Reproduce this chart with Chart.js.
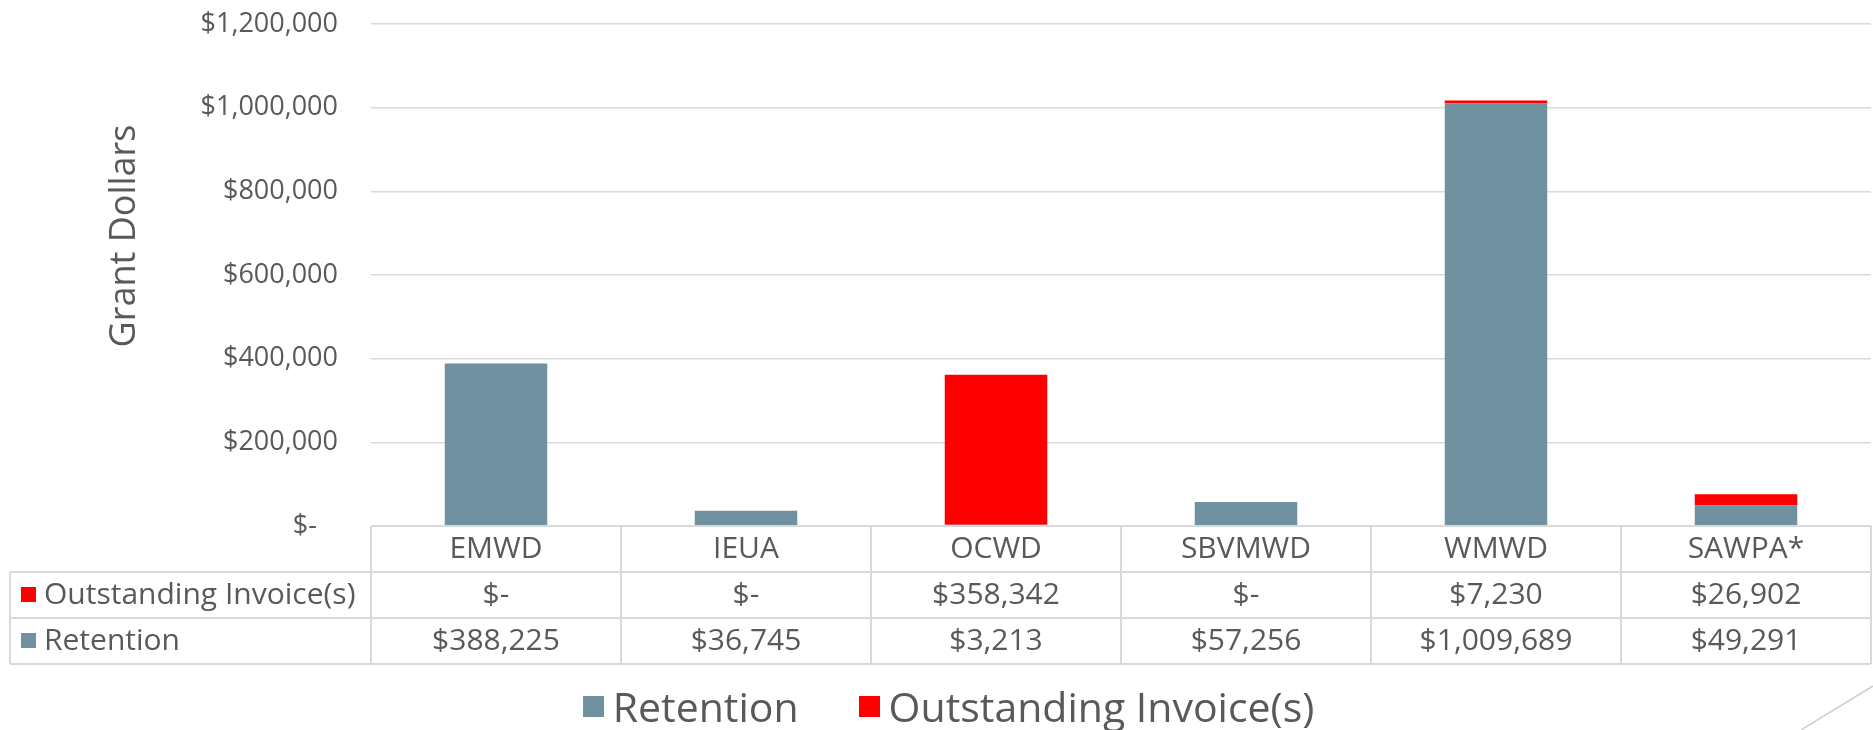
<!DOCTYPE html>
<html>
<head>
<meta charset="utf-8">
<script src="https://cdn.jsdelivr.net/npm/chart.js@4.4.1/dist/chart.umd.min.js"></script>
<style>
  html, body { margin: 0; padding: 0; background: #fff; }
  #wrap { width: 1873px; height: 730px; position: relative; }
  #legend {
    position: absolute; left: 0; top: 682px; width: 1873px; height: 48px;
    display: flex; justify-content: center; align-items: center;
    font-family: 'Open Sans', 'DejaVu Sans', sans-serif; font-size: 41px; color: #595959;
    padding-left: 24px; box-sizing: border-box;
  }
  #legend span.item { display: inline-flex; align-items: center; margin: 0 30px; }
  #legend span.key { display: inline-block; width: 21px; height: 21px; margin-right: 9px; }
</style>
</head>
<body>
<div id="wrap"><canvas id="grantChart"></canvas><div id="legend"></div></div>
<script>
const agencies = ["EMWD", "IEUA", "OCWD", "SBVMWD", "WMWD", "SAWPA*"];
const retention = [388225, 36745, 3213, 57256, 1009689, 49291];
const outstanding = [0, 0, 358342, 0, 7230, 26902];
const yTicks = [0, 200000, 400000, 600000, 800000, 1000000, 1200000];

const GREY_TEXT = "#595959";
const GRID = "#D9D9D9";
const RET_COLOR = "#6F91A0";
const OUT_COLOR = "#FF0000";
const FONT = "'Open Sans', 'DejaVu Sans', sans-serif";

function money(v) {
    return v === 0 ? "$-" : "$" + v.toLocaleString("en-US");
}

// table under the plot, columns follow the x scale
const dataTable = {
    id: "dataTable",
    afterDraw(chart) {
        const ctx = chart.ctx;
        const area = chart.chartArea;
        const xs = chart.scales.x;
        const n = agencies.length;
        const colW = (area.right - area.left) / n;
        const top = area.bottom;
        const rowH = 46;
        const left = 10;

        ctx.save();
        ctx.strokeStyle = GRID;
        ctx.lineWidth = 2;
        ctx.beginPath();
        ctx.moveTo(area.left, top); ctx.lineTo(area.right, top);
        for (let r = 1; r <= 3; r++) {
            ctx.moveTo(left, top + r * rowH); ctx.lineTo(area.right, top + r * rowH);
        }
        ctx.moveTo(left, top + rowH); ctx.lineTo(left, top + 3 * rowH);
        for (let i = 0; i <= n; i++) {
            const x = area.left + i * colW;
            ctx.moveTo(x, top); ctx.lineTo(x, top + 3 * rowH);
        }
        ctx.stroke();

        ctx.fillStyle = GREY_TEXT;
        ctx.font = "30px " + FONT;
        ctx.textAlign = "center";
        ctx.textBaseline = "middle";
        agencies.forEach((name, i) => {
            const cx = xs.getPixelForValue(i);
            ctx.fillText(name, cx, top + rowH * 0.5);
            ctx.fillText(money(outstanding[i]), cx, top + rowH * 1.5);
            ctx.fillText(money(retention[i]), cx, top + rowH * 2.5);
        });

        // row headers with their colour keys
        const rows = [["Outstanding Invoice(s)", OUT_COLOR], ["Retention", RET_COLOR]];
        ctx.textAlign = "left";
        rows.forEach((row, r) => {
            const cy = top + rowH * (1.5 + r);
            ctx.fillStyle = row[1];
            ctx.fillRect(21, cy - 8, 15, 15);
            ctx.fillStyle = GREY_TEXT;
            ctx.fillText(row[0], 44, cy);
        });

        // axis title
        ctx.translate(125, 236);
        ctx.rotate(-Math.PI / 2);
        ctx.textAlign = "center";
        ctx.font = "36px " + FONT;
        ctx.fillText("Grant Dollars", 0, 0);
        ctx.restore();

        // slide corner decoration
        ctx.save();
        ctx.strokeStyle = "#CFCFCF";
        ctx.lineWidth = 1.5;
        ctx.beginPath();
        ctx.moveTo(1873, 686);
        ctx.lineTo(1801, 730);
        ctx.stroke();
        ctx.restore();
    }
};

const chart = new Chart(document.getElementById("grantChart"), {
    type: "bar",
    data: {
        labels: agencies,
        datasets: [
            { label: "Retention", data: retention, backgroundColor: RET_COLOR },
            { label: "Outstanding Invoice(s)", data: outstanding, backgroundColor: OUT_COLOR }
        ]
    },
    options: {
        responsive: true,
        maintainAspectRatio: false,
        animation: false,
        layout: { padding: { top: 24, left: 10, right: 2, bottom: 0 } },
        datasets: { bar: { barPercentage: 0.41, categoryPercentage: 1 } },
        scales: {
            x: {
                stacked: true,
                grid: { display: false },
                border: { display: false },
                ticks: { display: false },
                afterFit(scale) { scale.height = 204; }
            },
            y: {
                stacked: true,
                min: 0,
                max: yTicks[yTicks.length - 1],
                afterBuildTicks(scale) { scale.ticks = yTicks.map(v => ({ value: v })); },
                grid: { color: GRID, lineWidth: 1.5, drawTicks: false },
                border: { display: false },
                ticks: {
                    color: GREY_TEXT,
                    font: { family: FONT, size: 27 },
                    padding: 33,
                    callback: v => v === 0 ? "$-   " : money(v)
                },
                afterFit(scale) {
                    scale.width = 361;
                    scale.paddingTop = 0;
                    scale.paddingBottom = 0;
                }
            }
        },
        plugins: {
            legend: { display: false },
            tooltip: { enabled: false }
        }
    },
    plugins: [dataTable]
});

// legend in dataset order
const legendEl = document.getElementById("legend");
chart.data.datasets.forEach(ds => {
    const item = document.createElement("span");
    item.className = "item";
    const key = document.createElement("span");
    key.className = "key";
    key.style.background = ds.backgroundColor;
    item.appendChild(key);
    item.appendChild(document.createTextNode(ds.label));
    legendEl.appendChild(item);
});
</script>
</body>
</html>
